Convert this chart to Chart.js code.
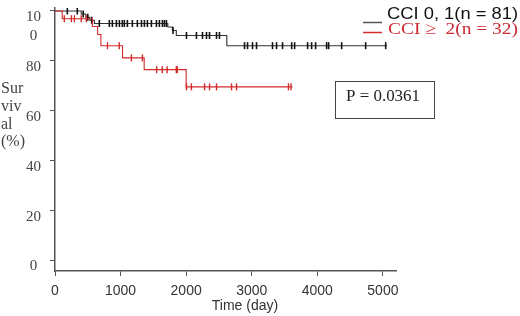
<!DOCTYPE html>
<html><head><meta charset="utf-8">
<script src="https://cdn.jsdelivr.net/npm/chart.js"></script>
<style>html,body{margin:0;padding:0;background:#fff;}#wrap{width:520px;height:316px;position:relative;}</style>
</head><body><div id="wrap"><canvas id="c" width="520" height="316"></canvas></div>
<script>
// ---- data ----
const xTickValues = [0, 1000, 2000, 3000, 4000, 5000];
const xTickLabels = ['0', '1000', '2000', '3000', '4000', '5000'];
const yTickValues = [0, 20, 40, 60, 80, 100];
const yTickLabels = ['0', '20', '40', '60', '80', ['', '10', '0']];
const yTitleLines = ['Sur', 'viv', 'al', '(%)'];
const xTitle = 'Time (day)';
const seriesNames = ['CCI 0, 1(n = 81)', 'CCI \u2265  2(n = 32)'];
const pText = 'P = 0.0361';

// Kaplan-Meier step points (time in days, survival %)
const blackTimes = [0, 400, 470, 530, 600, 1720, 1790, 1850, 2620, 5060];
const blackSurv  = [100, 98.8, 97.5, 96.3, 95.0, 93.6, 92.2, 90.2, 86.1, 86.1];
const redTimes = [0, 110, 570, 650, 700, 1030, 1360, 2000, 3620];
const redSurv  = [100, 96.9, 93.8, 90.6, 86.1, 81.2, 76.5, 69.6, 69.6];

// censored observations
const blackCensorTimes = [188, 340, 430, 500, 560,
  676, 829, 875, 936, 982, 1027, 1058, 1104, 1180, 1256, 1318, 1363, 1409, 1470, 1547, 1592, 1638, 1669, 1699,
  1800,
  2005, 2157, 2249, 2310, 2356, 2463, 2508,
  2890, 2936, 3012, 3073, 3317, 3378, 3470, 3609, 3654, 3852, 3913, 3974, 4142, 4173, 4371, 4737, 5043];
const blackCensorSurv = [100, 100, 98.8, 97.5, 96.3,
  95, 95, 95, 95, 95, 95, 95, 95, 95, 95, 95, 95, 95, 95, 95, 95, 95, 95, 95,
  92.2,
  90.2, 90.2, 90.2, 90.2, 90.2, 90.2, 90.2,
  86.1, 86.1, 86.1, 86.1, 86.1, 86.1, 86.1, 86.1, 86.1, 86.1, 86.1, 86.1, 86.1, 86.1, 86.1, 86.1, 86.1];
const redCensorTimes = [142, 250, 296, 400, 478,
  800, 980,
  1165, 1333,
  1550, 1635, 1710, 1850, 1865,
  2005, 2080, 2281, 2357, 2463, 2692, 2768, 3560, 3600];
const redCensorSurv = [96.9, 96.9, 96.9, 96.9, 96.9,
  86.1, 86.1,
  81.2, 81.2,
  76.5, 76.5, 76.5, 76.5, 76.5,
  69.6, 69.6, 69.6, 69.6, 69.6, 69.6, 69.6, 69.6, 69.6];

const BLACK = '#333333';
const RED = '#d42a2a';

function pts(xs, ys) { return xs.map((x, i) => ({ x: x, y: ys[i] })); }

function fitText(ctx, text, x, y, w, font, color) {
  ctx.save();
  ctx.font = font;
  const m = ctx.measureText(text).width;
  ctx.translate(x, y);
  ctx.scale(w / m, 1);
  ctx.fillStyle = color;
  ctx.textAlign = 'left';
  ctx.textBaseline = 'middle';
  ctx.fillText(text, 0, 0);
  ctx.restore();
}

const decor = {
  id: 'decor',
  afterDraw(chart) {
    const ctx = chart.ctx;
    ctx.save();
    // y title
    ctx.fillStyle = '#444';
    ctx.font = '16px "Liberation Serif"';
    ctx.textAlign = 'left';
    ctx.textBaseline = 'middle';
    yTitleLines.forEach((t, i) => ctx.fillText(t, 1, 89 + i * 17.7));
    // x title
    ctx.fillStyle = '#333';
    ctx.font = '14px "Liberation Sans"';
    ctx.textAlign = 'center';
    ctx.fillText(xTitle, 245, 306);
    // legend
    ctx.lineWidth = 1.5;
    ctx.strokeStyle = '#555';
    ctx.beginPath(); ctx.moveTo(363, 22.5); ctx.lineTo(382, 22.5); ctx.stroke();
    ctx.strokeStyle = RED;
    ctx.beginPath(); ctx.moveTo(363, 32.5); ctx.lineTo(382, 32.5); ctx.stroke();
    fitText(ctx, seriesNames[0], 387, 14.5, 131, '17px "Liberation Sans"', '#111');
    fitText(ctx, seriesNames[1], 388, 29.5, 130, '17px "Liberation Serif"', '#cc2b35');
    // p-value box
    ctx.strokeStyle = '#444';
    ctx.lineWidth = 1;
    ctx.strokeRect(335.5, 81.5, 99, 37);
    fitText(ctx, pText, 346, 97, 74, '16px "Liberation Serif"', '#222');
    ctx.restore();
  }
};

new Chart(document.getElementById('c'), {
  type: 'scatter',
  data: {
    datasets: [
      { label: seriesNames[1] + ' censored', data: pts(redCensorTimes, redCensorSurv), showLine: false,
        pointStyle: 'line', rotation: 90, radius: 3.5, borderColor: RED, borderWidth: 1.4, pointHoverRadius: 3.5 },
      { label: seriesNames[1], data: pts(redTimes, redSurv), showLine: true, stepped: 'before',
        borderColor: RED, borderWidth: 1.1, pointRadius: 0, fill: false },
      { label: seriesNames[0] + ' censored', data: pts(blackCensorTimes, blackCensorSurv), showLine: false,
        pointStyle: 'line', rotation: 90, radius: 3.5, borderColor: '#111', borderWidth: 1.6, pointHoverRadius: 3.5 },
      { label: seriesNames[0], data: pts(blackTimes, blackSurv), showLine: true, stepped: 'before',
        borderColor: BLACK, borderWidth: 1.1, pointRadius: 0, fill: false }
    ]
  },
  options: {
    responsive: false,
    animation: false,
    devicePixelRatio: 1,
    layout: { padding: { top: 8, right: 124, left: 0, bottom: 0 } },
    plugins: { legend: { display: false }, tooltip: { enabled: false } },
    scales: {
      x: {
        type: 'linear', min: 0, max: 5200,
        afterBuildTicks: s => { s.ticks = xTickValues.map(v => ({ value: v })); },
        afterFit: s => { s.height = 45; s.paddingLeft = 0; s.paddingRight = 0; },
        ticks: {
          color: '#333', font: { family: 'Liberation Sans', size: 14 }, padding: 7, maxRotation: 0, autoSkip: false,
          callback: (v) => { const i = xTickValues.indexOf(v); return i >= 0 ? xTickLabels[i] : ''; }
        },
        grid: { drawOnChartArea: false, drawTicks: true, tickLength: 5, color: '#555' },
        border: { color: '#555', width: 1.5 }
      },
      y: {
        type: 'linear', min: -4.2, max: 101.2,
        afterBuildTicks: s => { s.ticks = yTickValues.map(v => ({ value: v })); },
        afterFit: s => { s.width = 55; s.paddingTop = 0; s.paddingBottom = 0; },
        ticks: {
          color: '#444', font: { family: 'Liberation Serif', size: 15, lineHeight: 1.27 },
          crossAlign: 'center', padding: 9, labelOffset: 6, autoSkip: false,
          callback: (v) => { const i = yTickValues.indexOf(v); return i >= 0 ? yTickLabels[i] : ''; }
        },
        grid: { drawOnChartArea: false, drawTicks: true, tickLength: 5, color: '#555' },
        border: { color: '#555', width: 1.5 }
      }
    }
  },
  plugins: [decor]
});
</script>
</body></html>
